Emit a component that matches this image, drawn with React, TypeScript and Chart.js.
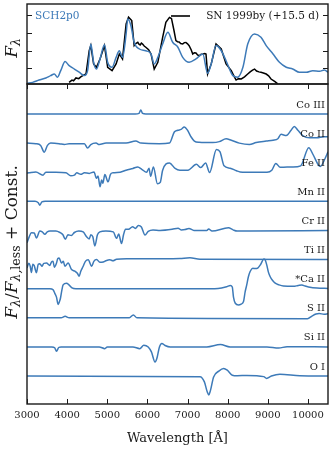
import React, { useEffect, useRef } from "react";
import { Chart, registerables } from "chart.js";
Chart.register(...registerables);

const SERIF = '"DejaVu Serif", "Liberation Serif", serif';
const BLUE = "#3d7ab8";
const INK = "#1a1a1a";

// ---------- top panel: spectra ----------
const modelName = "SCH2p0";
const obsName = "SN 1999by (+15.5 d)";
const fluxTicks = [1, 2, 3, 4];
const wavelengthTicks = [3000, 4000, 5000, 6000, 7000, 8000, 9000, 10000];

const modelWave = [3000, 3140, 3300, 3470, 3590, 3680, 3760, 3840, 3950, 4050, 4180, 4300, 4430, 4510, 4590, 4660, 4730, 4820, 4930, 5010, 5120, 5220, 5300, 5380, 5470, 5510, 5590, 5670, 5800, 5960, 6090, 6170, 6260, 6380, 6510, 6630, 6760, 6880, 7040, 7210, 7380, 7500, 7590, 7710, 7840, 7960, 8130, 8250, 8380, 8500, 8670, 8830, 8960, 9130, 9290, 9460, 9620, 9790, 9960, 10120, 10290, 10410, 10500];
const modelFlux = [0.16, 0.21, 0.34, 0.46, 0.59, 0.68, 0.5, 0.87, 1.38, 1.15, 0.96, 0.78, 0.59, 0.87, 2.37, 1.34, 0.96, 1.53, 2.33, 1.34, 1.06, 1.62, 1.99, 1.62, 2.94, 3.78, 3.4, 2.47, 2.09, 1.99, 1.81, 1.25, 1.62, 2.37, 3.03, 2.47, 2.19, 1.62, 1.34, 1.53, 1.81, 0.72, 1.25, 2.28, 1.99, 1.43, 0.59, 0.5, 1.06, 2.37, 2.94, 2.75, 2.28, 1.81, 1.34, 1.06, 0.96, 0.78, 0.78, 0.87, 0.83, 0.91, 0.78];

const obsWave = [4050, 4120, 4160, 4220, 4290, 4340, 4390, 4470, 4550, 4590, 4660, 4730, 4820, 4930, 5010, 5120, 5220, 5300, 5380, 5470, 5530, 5610, 5670, 5710, 5760, 5790, 5820, 5850, 5880, 5920, 5960, 6030, 6090, 6170, 6260, 6380, 6460, 6550, 6600, 6660, 6710, 6750, 6790, 6830, 6880, 6920, 6960, 7000, 7040, 7090, 7130, 7170, 7210, 7250, 7290, 7340, 7390, 7430, 7460, 7500, 7590, 7710, 7840, 7960, 8090, 8160, 8210, 8270, 8340, 8420, 8500, 8560, 8620, 8670, 8720, 8780, 8830, 8890, 8960, 9020, 9080, 9170, 9250];
const obsFlux = [0.21, 0.34, 0.3, 0.46, 0.42, 0.52, 0.59, 0.68, 1.99, 2.28, 1.25, 1.06, 1.53, 2.28, 1.06, 0.87, 1.25, 1.81, 1.53, 3.5, 3.88, 3.69, 2.28, 2.4, 2.47, 2.36, 2.32, 2.42, 2.37, 2.26, 2.19, 2.05, 1.81, 0.96, 1.34, 2.75, 3.59, 3.87, 3.81, 3.16, 2.56, 2.5, 2.49, 2.4, 2.37, 2.45, 2.46, 2.38, 2.28, 2.05, 1.81, 1.88, 1.87, 1.76, 1.71, 1.8, 1.81, 1.84, 1.81, 0.68, 1.25, 2.37, 2.09, 1.25, 0.87, 0.55, 0.34, 0.42, 0.4, 0.52, 0.68, 0.8, 0.9, 0.96, 0.85, 0.8, 0.78, 0.74, 0.68, 0.58, 0.4, 0.26, 0.12];

// ---------- bottom panel: ion contributions ----------
const ionNames = ["Co III", "Co II", "Fe II", "Mn II", "Cr II", "Ti II", "*Ca II", "S II", "Si II", "O I"];
const ionOffsets = [10, 9, 8, 7, 6, 5, 4, 3, 2, 1];

const coIIIWave = [3000, 5700, 5790, 5835, 5880, 5960, 10500];
const coIIIFlux = [0, 0, 0.02, 0.14, 0.02, 0, 0];

const coIIWave = [3000, 3220, 3340, 3430, 3510, 3590, 3800, 3930, 4050, 4430, 4510, 4590, 4720, 4800, 4970, 5470, 5710, 5840, 6300, 6550, 6670, 6760, 6840, 6920, 7000, 7090, 7170, 7290, 7630, 7790, 7960, 8090, 8290, 8540, 8710, 8960, 9130, 9250, 9330, 9460, 9580, 9660, 9750, 9870, 10040, 10210, 10410, 10500];
const coIIFlux = [0, -0.02, -0.08, -0.31, -0.08, 0, -0.02, -0.05, -0.02, -0.02, -0.17, -0.05, 0, -0.05, 0, 0, 0.07, 0, -0.02, 0, 0.38, 0.44, 0.47, 0.55, 0.44, 0.21, 0.07, 0.03, 0.02, 0.05, 0.15, 0.1, 0, -0.05, 0.02, 0.07, 0.1, 0.15, 0.3, 0.26, 0.44, 0.57, 0.44, 0.26, 0.18, 0.18, 0.22, 0.22];

const feIIWave = [3000, 3050, 3220, 3400, 3470, 3720, 3970, 4090, 4180, 4240, 4340, 4430, 4550, 4670, 4730, 4770, 4820, 4860, 4890, 4940, 5020, 5080, 5140, 5320, 5470, 5640, 5760, 5860, 5980, 6040, 6080, 6150, 6250, 6320, 6380, 6550, 6690, 6810, 7010, 7220, 7330, 7450, 7550, 7720, 7810, 7910, 8060, 8220, 8310, 8640, 8980, 9100, 9200, 9310, 9480, 9630, 9820, 10020, 10130, 10260, 10310, 10430, 10500];
const feIIFlux = [-0.03, -0.02, 0.01, -0.1, 0, 0, -0.02, -0.12, -0.1, -0.02, -0.07, -0.02, -0.04, 0.01, -0.21, -0.13, -0.5, -0.27, -0.38, -0.08, -0.33, -0.07, -0.02, 0, 0.07, 0.13, 0.18, 0.1, 0, 0.14, -0.14, 0.18, -0.4, -0.35, 0.07, 0.32, 0.13, 0.07, 0.07, 0.27, 0.16, 0.32, -0.01, 0.78, 0.7, 0.22, 0.14, 0.05, 0.01, 0, 0, 0.07, 0.3, 0.17, 0.18, 0.18, 0.22, 0.84, 0.6, 0.25, 0.2, 0.48, 0.7];

const mnIIWave = [3000, 3200, 3280, 3320, 3370, 3450, 10500];
const mnIIFlux = [0, 0, -0.05, -0.13, -0.02, 0, 0];

const crIIWave = [3000, 3055, 3110, 3180, 3235, 3320, 3380, 3445, 3505, 3570, 3720, 3820, 3895, 3955, 4020, 4105, 4180, 4290, 4400, 4485, 4550, 4590, 4640, 4690, 4755, 4815, 4965, 5150, 5230, 5285, 5355, 5405, 5455, 5530, 5630, 5700, 5775, 5850, 5940, 6020, 6140, 6315, 6615, 6765, 6840, 6940, 7035, 7160, 7480, 7525, 7610, 8020, 8135, 8235, 8560, 10500];
const crIIFlux = [-0.42, -0.22, -0.08, -0.09, -0.26, -0.02, -0.05, -0.13, -0.05, -0.02, -0.02, -0.07, -0.15, -0.3, -0.15, -0.17, -0.07, -0.02, -0.05, -0.22, -0.29, -0.15, -0.22, -0.53, -0.15, -0.05, -0.02, -0.05, -0.27, -0.12, -0.45, -0.15, 0.04, 0.04, 0.13, 0.07, 0.17, 0.12, -0.16, -0.03, 0.02, 0, 0.04, 0.08, 0.02, 0.03, 0.07, 0, 0, 0.05, -0.02, 0.09, 0.02, -0.02, -0.02, 0];

const tiIIWave = [3000, 3045, 3080, 3110, 3145, 3180, 3235, 3280, 3320, 3370, 3420, 3485, 3570, 3610, 3650, 3680, 3735, 3765, 3800, 3860, 3905, 3945, 4025, 4110, 4195, 4255, 4300, 4340, 4400, 4455, 4525, 4610, 4665, 4735, 4815, 4900, 4965, 5065, 5140, 5230, 5480, 6480, 6810, 7060, 7310, 10500];
const tiIIFlux = [-0.29, -0.13, -0.23, -0.44, -0.16, -0.21, -0.45, -0.16, -0.14, -0.23, -0.13, -0.12, -0.2, -0.08, -0.06, -0.26, -0.12, 0.03, 0.05, -0.12, -0.06, -0.23, -0.12, -0.34, -0.4, -0.47, -0.57, -0.4, -0.23, -0.06, -0.01, -0.23, -0.06, 0, -0.09, -0.08, -0.04, -0.01, -0.04, 0.01, 0.03, 0.03, 0.04, 0.06, 0.01, 0];

const caIIWave = [3000, 3570, 3650, 3690, 3735, 3775, 3805, 3835, 3870, 3900, 3985, 4045, 4110, 4220, 7310, 7760, 7980, 8065, 8115, 8145, 8190, 8270, 8335, 8395, 8435, 8475, 8515, 8560, 8625, 8685, 8750, 8820, 8900, 8935, 8975, 9015, 9060, 9120, 9185, 9280, 9390, 9640, 9755, 9850, 9930, 10015, 10225, 10500];
const caIIFlux = [0, 0, -0.04, -0.15, -0.29, -0.54, -0.46, -0.32, -0.04, 0.13, 0.19, 0.13, 0.04, 0, 0, 0.01, 0.07, 0.11, 0.06, -0.29, -0.5, -0.56, -0.53, -0.44, -0.11, 0.13, 0.4, 0.59, 0.7, 0.69, 0.71, 0.83, 1.02, 0.99, 0.81, 0.57, 0.41, 0.28, 0.19, 0.13, 0.09, 0.08, 0.11, 0.13, 0.09, 0.06, 0.02, 0.01];

const sIIWave = [3000, 3850, 3950, 4050, 5550, 5650, 5740, 9990, 10100, 10200, 10280, 10400, 10500];
const sIIFlux = [0, 0, 0.05, 0, 0, 0.1, 0, -0.03, 0.06, 0.13, 0.15, 0.12, 0.14];

const siIIWave = [3000, 3620, 3690, 3735, 3790, 3850, 4800, 4940, 5000, 5640, 5810, 5910, 6020, 6100, 6190, 6235, 6300, 6360, 6440, 6570, 7480, 7820, 8060, 8980, 9270, 9480, 10500];
const siIIFlux = [0, 0, -0.03, -0.15, -0.02, 0, 0, -0.06, 0, 0, -0.06, 0.06, 0, -0.17, -0.52, -0.4, 0, 0.12, 0.05, 0, 0, 0.08, 0, 0, -0.04, 0.01, 0];

const oIWave = [3000, 7310, 7420, 7490, 7530, 7570, 7650, 7780, 7900, 7990, 8115, 8240, 8480, 8900, 8970, 9090, 9300, 9800, 10500];
const oIFlux = [0, -0.02, -0.2, -0.54, -0.65, -0.5, -0.03, 0.17, 0.26, 0.2, 0.03, 0.01, 0.02, -0.02, -0.08, 0, 0.06, 0.01, 0];

const ionWaves = [coIIIWave, coIIWave, feIIWave, mnIIWave, crIIWave, tiIIWave, caIIWave, sIIWave, siIIWave, oIWave];
const ionFluxes = [coIIIFlux, coIIFlux, feIIFlux, mnIIFlux, crIIFlux, tiIIFlux, caIIFlux, sIIFlux, siIIFlux, oIFlux];

// ---------- helpers ----------
type Part = { t: string; size: number; italic?: boolean; dy?: number };

function zip(w: number[], f: number[], off = 0) {
  const n = Math.min(w.length, f.length);
  const out: { x: number; y: number }[] = [];
  for (let i = 0; i < n; i++) out.push({ x: w[i], y: f[i] + off });
  return out;
}

function drawRich(ctx: CanvasRenderingContext2D, parts: Part[], cx: number, cy: number, rotate: boolean, color = INK) {
  ctx.save();
  ctx.translate(cx, cy);
  if (rotate) ctx.rotate(-Math.PI / 2);
  ctx.textBaseline = "alphabetic";
  ctx.textAlign = "left";
  ctx.fillStyle = color;
  const fontOf = (p: Part) => `${p.italic ? "italic " : ""}${p.size}px ${SERIF}`;
  let total = 0;
  const widths = parts.map((p) => {
    ctx.font = fontOf(p);
    const w = ctx.measureText(p.t).width;
    total += w;
    return w;
  });
  let x = -total / 2;
  parts.forEach((p, i) => {
    ctx.font = fontOf(p);
    ctx.fillText(p.t, x, p.dy || 0);
    x += widths[i];
  });
  ctx.restore();
}

function frame(ctx: CanvasRenderingContext2D, a: any) {
  ctx.save();
  ctx.strokeStyle = INK;
  ctx.lineWidth = 1.4;
  ctx.strokeRect(a.left, a.top, a.right - a.left, a.bottom - a.top);
  ctx.restore();
}

const topDecor = {
  id: "topDecor",
  afterDraw(chart: any) {
    const { ctx, chartArea: a, scales } = chart;
    const y = scales.y;
    frame(ctx, a);
    ctx.save();
    ctx.strokeStyle = INK;
    ctx.lineWidth = 1;
    fluxTicks.forEach((v) => {
      const py = Math.round(y.getPixelForValue(v)) + 0.5;
      ctx.beginPath();
      ctx.moveTo(a.left, py);
      ctx.lineTo(a.left + 5, py);
      ctx.moveTo(a.right - 5, py);
      ctx.lineTo(a.right, py);
      ctx.stroke();
    });
    // legend
    ctx.font = `10.5px ${SERIF}`;
    ctx.textBaseline = "middle";
    ctx.textAlign = "left";
    ctx.fillStyle = BLUE;
    ctx.fillText(modelName, 35, 16);
    ctx.strokeStyle = "#000";
    ctx.lineWidth = 1.6;
    ctx.beginPath();
    ctx.moveTo(171, 16);
    ctx.lineTo(190, 16);
    ctx.stroke();
    ctx.fillStyle = INK;
    ctx.textAlign = "right";
    ctx.fillText(obsName, 319, 16);
    ctx.restore();
    drawRich(ctx, [
      { t: "F", size: 17, italic: true },
      { t: "λ", size: 12.5, italic: true, dy: 3 },
    ], 17, 48, true);
  },
};

const bottomDecor = {
  id: "bottomDecor",
  afterDraw(chart: any) {
    const { ctx, chartArea: a, scales } = chart;
    const x = scales.x;
    const y = scales.y;
    frame(ctx, a);
    ctx.save();
    ctx.strokeStyle = INK;
    ctx.lineWidth = 1;
    x.ticks.forEach((t: any) => {
      const px = Math.round(x.getPixelForValue(t.value)) + 0.5;
      ctx.beginPath();
      ctx.moveTo(px, a.top);
      ctx.lineTo(px, a.top + 5);
      ctx.moveTo(px, a.bottom - 5);
      ctx.lineTo(px, a.bottom);
      ctx.stroke();
    });
    ctx.font = `10px ${SERIF}`;
    ctx.fillStyle = INK;
    ctx.textAlign = "right";
    ctx.textBaseline = "middle";
    ionNames.forEach((n, i) => {
      ctx.fillText(n, a.right - 3, y.getPixelForValue(ionOffsets[i] + 0.31));
    });
    ctx.restore();
    // canvas starts at page y=80, so 162 here is near the panel's vertical centre
    drawRich(ctx, [
      { t: "F", size: 17, italic: true },
      { t: "λ", size: 12.5, italic: true, dy: 3 },
      { t: "/", size: 17 },
      { t: "F", size: 17, italic: true },
      { t: "λ,", size: 12.5, italic: true, dy: 3 },
      { t: "less", size: 12.5, dy: 3 },
      { t: " + Const.", size: 17 },
    ], 17, 162, true);
  },
};

export default function App() {
  const topRef = useRef<HTMLCanvasElement>(null);
  const botRef = useRef<HTMLCanvasElement>(null);

  useEffect(() => {
    Chart.defaults.font.family = SERIF;
    const lineDs = (data: any[], color: string, smooth: boolean) => ({
      data,
      borderColor: color,
      backgroundColor: color,
      borderWidth: 1.5,
      pointRadius: 0,
      fill: false,
      cubicInterpolationMode: smooth ? ("monotone" as const) : ("default" as const),
      tension: 0,
    });

    const top = new Chart(topRef.current!, {
      type: "line",
      data: {
        datasets: [
          lineDs(zip(modelWave, modelFlux), BLUE, true),
          lineDs(zip(obsWave, obsFlux), "#000", false),
        ],
      },
      options: {
        responsive: false,
        animation: false,
        events: [],
        layout: { padding: { left: 27, right: 3, top: 4, bottom: 4 } },
        plugins: { legend: { display: false }, tooltip: { enabled: false } },
        scales: {
          x: { type: "linear", min: 3000, max: 10500, display: false },
          y: { type: "linear", min: 0.118, max: 4.625, display: false },
        },
      },
      plugins: [topDecor],
    });

    const bot = new Chart(botRef.current!, {
      type: "line",
      data: {
        datasets: ionNames.map((_, i) =>
          lineDs(zip(ionWaves[i], ionFluxes[i], ionOffsets[i]), BLUE, true)
        ),
      },
      options: {
        responsive: false,
        animation: false,
        events: [],
        layout: { padding: { left: 27, right: 3, top: 4, bottom: 0 } },
        plugins: { legend: { display: false }, tooltip: { enabled: false } },
        scales: {
          x: {
            type: "linear",
            min: 3000,
            max: 10500,
            grid: { display: false, drawTicks: false },
            border: { display: false },
            afterBuildTicks: (s: any) => {
              s.ticks = wavelengthTicks.map((v) => ({ value: v }));
            },
            ticks: {
              autoSkip: false,
              maxRotation: 0,
              padding: 5,
              color: INK,
              font: { family: SERIF, size: 10 },
              callback: (v: any) => String(v),
            },
            title: {
              display: true,
              text: "Wavelength [Å]",
              color: INK,
              font: { family: SERIF, size: 13 },
              padding: { top: 0, bottom: 4 },
            },
            afterFit: (s: any) => {
              s.height = 46;
            },
          },
          y: { type: "linear", min: 0.04, max: 11.03, display: false },
        },
      },
      plugins: [bottomDecor],
    });

    return () => {
      top.destroy();
      bot.destroy();
    };
  }, []);

  return (
    <div style={{ position: "absolute", left: 0, top: 0, width: 331, height: 450, background: "#fff" }}>
      <canvas ref={topRef} width={331} height={88} style={{ position: "absolute", left: 0, top: 0 }} />
      <canvas ref={botRef} width={331} height={370} style={{ position: "absolute", left: 0, top: 80 }} />
    </div>
  );
}
